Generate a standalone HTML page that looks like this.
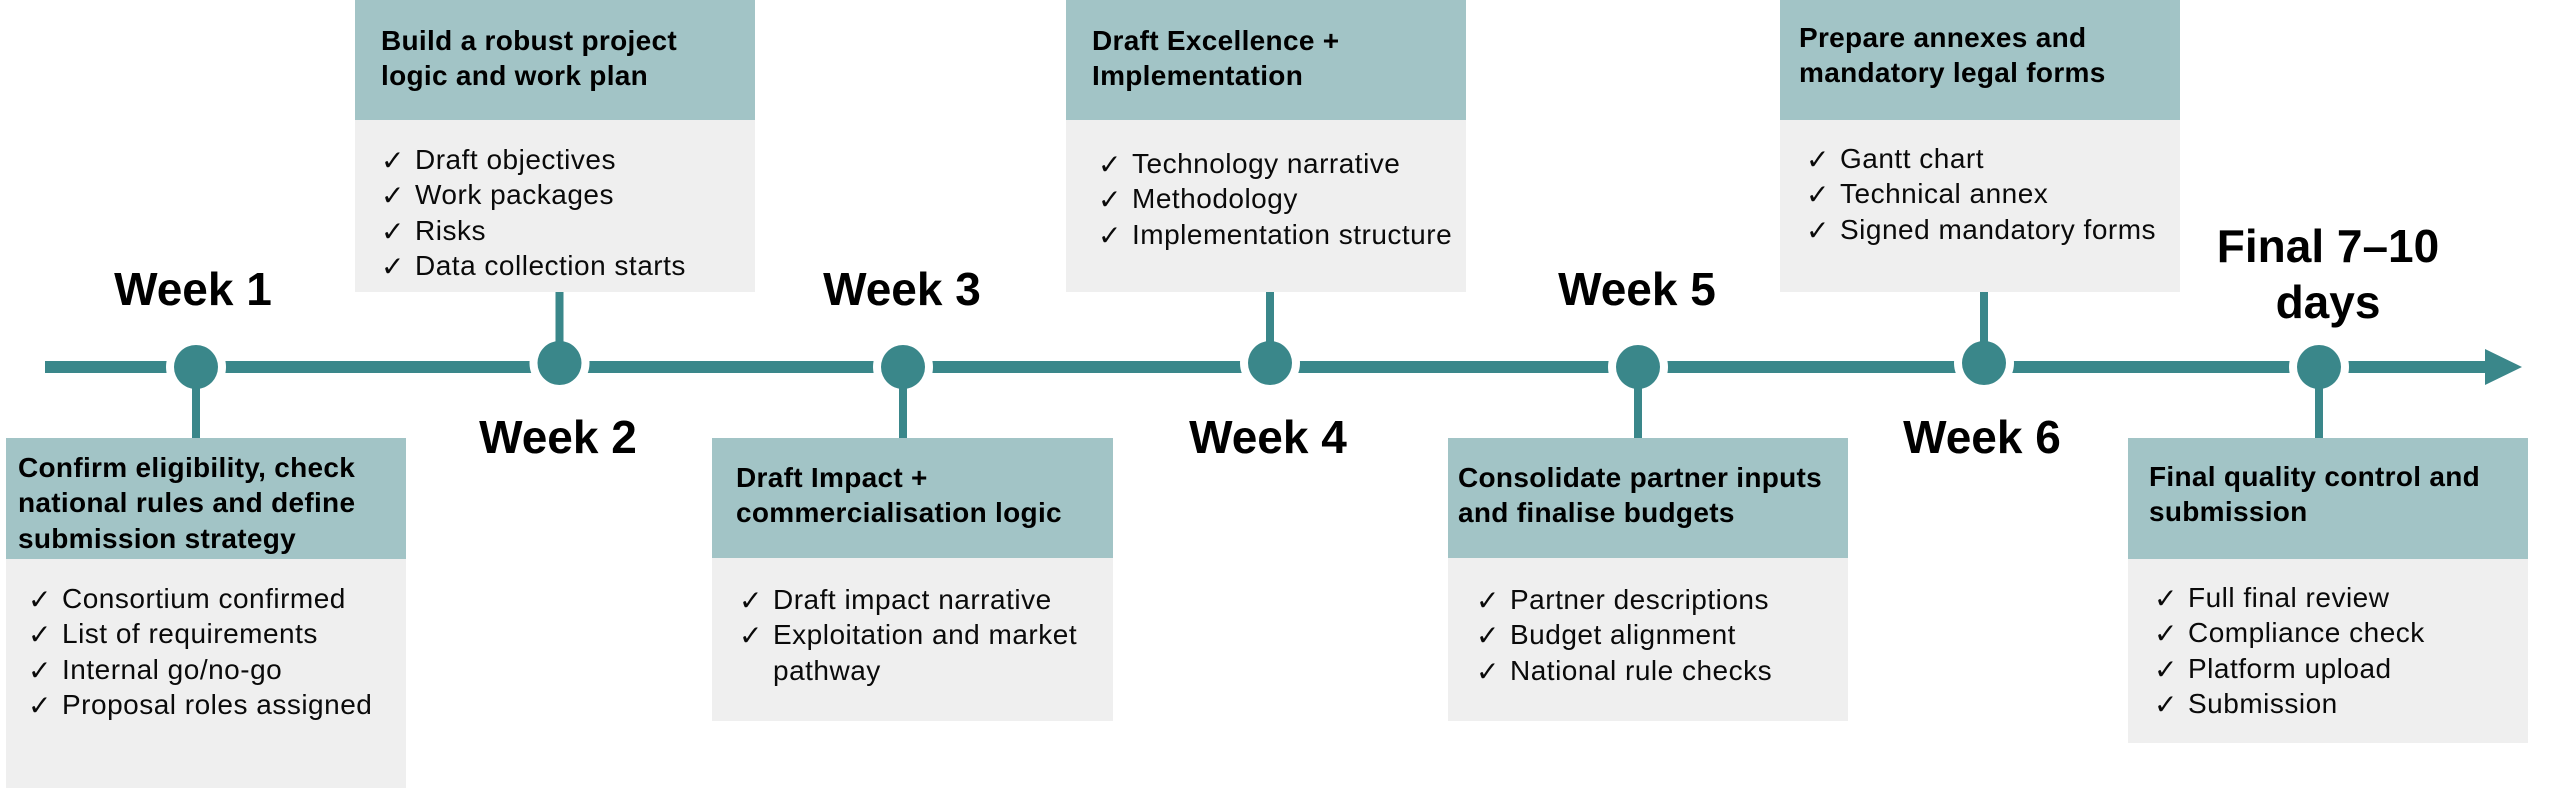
<!DOCTYPE html>
<html>
<head>
<meta charset="utf-8">
<style>
  html, body { margin:0; padding:0; }
  body { width:2560px; height:788px; overflow:hidden; background:#ffffff; position:relative;
         font-family:"Liberation Sans", Arial, sans-serif; color:#000; }
  .hd { position:absolute; background:#A2C4C6; }
  .bd { position:absolute; background:#EFEFEF; }
  .title { position:absolute; font-weight:bold; font-size:28px; line-height:35.5px; letter-spacing:0.3px; white-space:nowrap; color:#000; }
  .list { position:absolute; font-size:28px; line-height:35.5px; letter-spacing:0.5px; white-space:nowrap; color:#0a0a0a; }
  .list div { position:relative; }
  .ck { position:absolute; left:-34px; top:1px; font-family:"DejaVu Sans", sans-serif; font-size:28px; line-height:35.5px; letter-spacing:0; }
  .wk { position:absolute; width:320px; text-align:center; font-weight:bold; font-size:46px; line-height:46px; white-space:nowrap; color:#000; }
  svg { position:absolute; left:0; top:0; }
</style>
</head>
<body>

<!-- Boxes -->
<div class="hd" style="left:6px; top:438px; width:400px; height:121px;"></div>
<div class="bd" style="left:6px; top:559px; width:400px; height:229px;"></div>
<div class="hd" style="left:355px; top:0px; width:400px; height:120px;"></div>
<div class="bd" style="left:355px; top:120px; width:400px; height:172px;"></div>
<div class="hd" style="left:712px; top:438px; width:401px; height:120px;"></div>
<div class="bd" style="left:712px; top:558px; width:401px; height:163px;"></div>
<div class="hd" style="left:1066px; top:0px; width:400px; height:120px;"></div>
<div class="bd" style="left:1066px; top:120px; width:400px; height:172px;"></div>
<div class="hd" style="left:1448px; top:438px; width:400px; height:120px;"></div>
<div class="bd" style="left:1448px; top:558px; width:400px; height:163px;"></div>
<div class="hd" style="left:1780px; top:0px; width:400px; height:120px;"></div>
<div class="bd" style="left:1780px; top:120px; width:400px; height:172px;"></div>
<div class="hd" style="left:2128px; top:438px; width:400px; height:121px;"></div>
<div class="bd" style="left:2128px; top:559px; width:400px; height:184px;"></div>

<!-- Timeline -->
<svg width="2560" height="788" viewBox="0 0 2560 788">
  <rect x="45" y="361" width="2441" height="12" fill="#3A878A"/>
  <polygon points="2485,349 2522,367 2485,385" fill="#3A878A"/>
  <g fill="#ffffff">
    <circle cx="196" cy="367" r="30"/>
    <circle cx="559.5" cy="363" r="30"/>
    <circle cx="903" cy="367" r="30"/>
    <circle cx="1270" cy="363" r="30"/>
    <circle cx="1638" cy="367" r="30"/>
    <circle cx="1984" cy="363" r="30"/>
    <circle cx="2319" cy="367" r="30"/>
  </g>
  <g fill="#3A878A">
    <rect x="192" y="367" width="8" height="71"/>
    <rect x="555.5" y="292" width="8" height="71"/>
    <rect x="899" y="367" width="8" height="71"/>
    <rect x="1266" y="292" width="8" height="71"/>
    <rect x="1634" y="367" width="8" height="71"/>
    <rect x="1980" y="292" width="8" height="71"/>
    <rect x="2315" y="367" width="8" height="71"/>
  </g>
  <g fill="#3A878A">
    <circle cx="196" cy="367" r="22"/>
    <circle cx="559.5" cy="363" r="22"/>
    <circle cx="903" cy="367" r="22"/>
    <circle cx="1270" cy="363" r="22"/>
    <circle cx="1638" cy="367" r="22"/>
    <circle cx="1984" cy="363" r="22"/>
    <circle cx="2319" cy="367" r="22"/>
  </g>
</svg>

<!-- Week labels -->
<div class="wk" style="left:33px; top:266px;">Week 1</div>
<div class="wk" style="left:398px; top:414px;">Week 2</div>
<div class="wk" style="left:742px; top:266px;">Week 3</div>
<div class="wk" style="left:1108px; top:414px;">Week 4</div>
<div class="wk" style="left:1477px; top:266px;">Week 5</div>
<div class="wk" style="left:1822px; top:414px;">Week 6</div>
<div class="wk" style="left:2168px; top:218px; line-height:56px;">Final 7–10<br>days</div>

<!-- Titles -->
<div class="title" style="left:18px; top:449.5px;">Confirm eligibility, check<br>national rules and define<br>submission strategy</div>
<div class="title" style="left:381px; top:22.5px;">Build a robust project<br>logic and work plan</div>
<div class="title" style="left:736px; top:459.5px;">Draft Impact +<br>commercialisation logic</div>
<div class="title" style="left:1092px; top:22.5px;">Draft Excellence +<br>Implementation</div>
<div class="title" style="left:1458px; top:459.5px;">Consolidate partner inputs<br>and finalise budgets</div>
<div class="title" style="left:1799px; top:19.5px;">Prepare annexes and<br>mandatory legal forms</div>
<div class="title" style="left:2149px; top:458.5px;">Final quality control and<br>submission</div>

<!-- Lists -->
<div class="list" style="left:62px; top:580.5px;">
  <div><span class="ck">✓</span>Consortium confirmed</div>
  <div><span class="ck">✓</span>List of requirements</div>
  <div><span class="ck">✓</span>Internal go/no-go</div>
  <div><span class="ck">✓</span>Proposal roles assigned</div>
</div>
<div class="list" style="left:415px; top:141.5px;">
  <div><span class="ck">✓</span>Draft objectives</div>
  <div><span class="ck">✓</span>Work packages</div>
  <div><span class="ck">✓</span>Risks</div>
  <div><span class="ck">✓</span>Data collection starts</div>
</div>
<div class="list" style="left:773px; top:581.5px;">
  <div><span class="ck">✓</span>Draft impact narrative</div>
  <div><span class="ck">✓</span>Exploitation and market<br>pathway</div>
</div>
<div class="list" style="left:1132px; top:145.5px;">
  <div><span class="ck">✓</span>Technology narrative</div>
  <div><span class="ck">✓</span>Methodology</div>
  <div><span class="ck">✓</span>Implementation structure</div>
</div>
<div class="list" style="left:1510px; top:581.5px;">
  <div><span class="ck">✓</span>Partner descriptions</div>
  <div><span class="ck">✓</span>Budget alignment</div>
  <div><span class="ck">✓</span>National rule checks</div>
</div>
<div class="list" style="left:1840px; top:140.5px;">
  <div><span class="ck">✓</span>Gantt chart</div>
  <div><span class="ck">✓</span>Technical annex</div>
  <div><span class="ck">✓</span>Signed mandatory forms</div>
</div>
<div class="list" style="left:2188px; top:579.5px;">
  <div><span class="ck">✓</span>Full final review</div>
  <div><span class="ck">✓</span>Compliance check</div>
  <div><span class="ck">✓</span>Platform upload</div>
  <div><span class="ck">✓</span>Submission</div>
</div>

</body>
</html>
